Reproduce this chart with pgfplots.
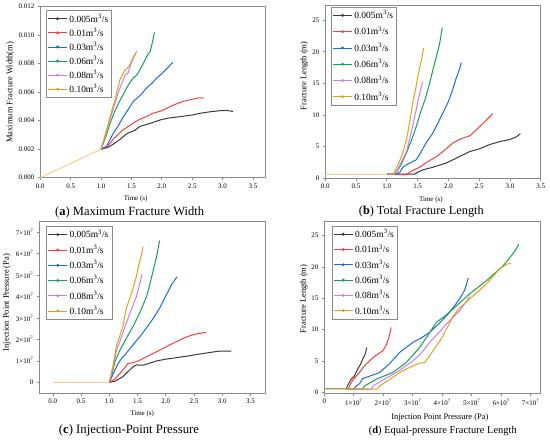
\documentclass[border=0pt]{standalone}
\usepackage{fontspec}
\setmainfont{Liberation Serif}
\usepackage{pgfplots}
\pgfplotsset{compat=1.18}
\definecolor{cblack}{HTML}{3A3A3A}
\definecolor{cred}{HTML}{FF3B3B}
\definecolor{cblue}{HTML}{1A68E8}
\definecolor{cgreen}{HTML}{15A050}
\definecolor{cpurple}{HTML}{C87DF0}
\definecolor{corange}{HTML}{E59E1A}
\definecolor{cpale}{HTML}{F6CF8F}
\definecolor{frame}{HTML}{8A8A8A}
\pgfplotsset{
  myax/.style={
    scale only axis,
    axis line style={frame, line width=0.9pt},
    tick pos=left, tick align=outside,
    major tick length=2.5bp,
    every tick/.style={frame, line width=0.7pt},
    tick label style={font=\fontsize{7}{8}\selectfont, text=black},
    /pgf/number format/assume math mode=true,
    legend cell align=left,
    legend image code/.code={\draw[##1, line width=0.7pt] (0bp,0bp) -- (19bp,0bp); \fill[##1] (9.5bp,0bp) circle (0.9bp);},
    legend style={draw=frame, line width=0.6pt, fill=white, anchor=north west,
      font=\fontsize{9.5}{10}\selectfont, inner sep=1.5bp},
    every axis plot/.append style={line width=1pt},
  },
}
\begin{document}
\begin{tikzpicture}
\useasboundingbox (0bp,0bp) rectangle (550bp,-441bp);
% ---------------- (a)
\begin{axis}[myax, at={(40.3bp,-177.7bp)}, anchor=south west,
  width=225.4bp, height=171bp,
  xmin=0, xmax=3.71, ymin=0, ymax=0.012,
  xtick={0,0.5,...,3.5}, ytick={0,0.002,...,0.012},
  xticklabel style={/pgf/number format/.cd, fixed, fixed zerofill, precision=1},
  yticklabel style={/pgf/number format/.cd, fixed, fixed zerofill, precision=3},
  scaled y ticks=false,
  xlabel={Time (s)}, ylabel={Maximum Fracture Width(m)},
  xlabel style={font=\fontsize{7}{8}\selectfont, at={(axis description cs:0.423,-0.125)}, anchor=center},
  ylabel style={font=\fontsize{8.5}{9}\selectfont, at={(axis description cs:-0.133,0.5)}, anchor=center},
  legend style={at={(0.025,0.98)}, row sep=0.4bp},
]
\addplot[cblack] coordinates {(1.0,0.00200)(1.1,0.00210)(1.2,0.00235)(1.3,0.00265)(1.4,0.00300)(1.45,0.00315)(1.55,0.00330)(1.64,0.00360)(1.8,0.00380)(1.97,0.00405)(2.1,0.00418)(2.3,0.00428)(2.5,0.00440)(2.63,0.00452)(2.8,0.00463)(2.95,0.00470)(3.07,0.00472)(3.17,0.00465)};
\addplot[cred] coordinates {(1.0,0.0020)(1.1,0.00215)(1.2,0.0027)(1.3,0.0031)(1.34,0.0033)(1.45,0.0036)(1.55,0.0039)(1.64,0.0041)(1.75,0.0043)(1.86,0.00453)(2.0,0.0047)(2.19,0.0051)(2.35,0.00535)(2.5,0.0055)(2.6,0.0056)(2.69,0.0056)};
\addplot[cblue] coordinates {(1.0,0.0020)(1.09,0.0022)(1.2,0.0031)(1.29,0.0037)(1.37,0.0043)(1.45,0.0048)(1.53,0.00535)(1.65,0.0058)(1.75,0.0063)(1.83,0.0066)(1.92,0.0070)(2.05,0.0075)(2.18,0.0081)};
\addplot[cgreen] coordinates {(1.0,0.0020)(1.07,0.00277)(1.15,0.00383)(1.22,0.0046)(1.29,0.00524)(1.36,0.0058)(1.42,0.0063)(1.48,0.0067)(1.53,0.0070)(1.59,0.0072)(1.64,0.00758)(1.70,0.00805)(1.75,0.0085)(1.81,0.00887)(1.85,0.0096)(1.88,0.0102)};
\addplot[cpurple] coordinates {(1.0,0.0020)(1.09,0.00336)(1.18,0.00453)(1.29,0.00606)(1.35,0.0067)(1.40,0.00723)(1.44,0.0073)(1.47,0.0077)(1.52,0.00833)(1.57,0.0087)};
\addplot[corange] coordinates {(1.0,0.0020)(1.07,0.00289)(1.15,0.0043)(1.23,0.00547)(1.31,0.00688)(1.36,0.0073)(1.40,0.00758)(1.46,0.0078)(1.51,0.00829)(1.55,0.0086)(1.59,0.00887)};
\addplot[cpale, forget plot] coordinates {(0,0)(1.0,0.002)};
\legend{0.005m\textsuperscript{3}/s,0.01m\textsuperscript{3}/s,0.03m\textsuperscript{3}/s,0.06m\textsuperscript{3}/s,0.08m\textsuperscript{3}/s,0.10m\textsuperscript{3}/s}
\end{axis}
% ---------------- (b)
\begin{axis}[myax, at={(325.3bp,-178bp)}, anchor=south west,
  width=215.4bp, height=173bp,
  xmin=0, xmax=3.5, ymin=0, ymax=27.4,
  xtick={0,0.5,...,3.5}, ytick={0,5,...,25},
  xticklabel style={/pgf/number format/.cd, fixed, fixed zerofill, precision=1},
  xlabel={Time (s)}, ylabel={Fracture Length (m)},
  xlabel style={font=\fontsize{7}{8}\selectfont, at={(axis description cs:0.49,-0.127)}, anchor=center},
  ylabel style={font=\fontsize{8.5}{9}\selectfont, at={(axis description cs:-0.097,0.59)}, anchor=center},
  legend style={at={(0.026,0.99)}, row sep=2.6bp},
]
\addplot[cblack] coordinates {(1.0,0.6)(1.45,0.6)(1.48,0.8)(1.59,1.3)(1.75,1.7)(1.97,2.4)(2.1,3.0)(2.2,3.5)(2.35,4.2)(2.5,4.6)(2.67,5.3)(2.85,5.8)(3.0,6.1)(3.1,6.5)(3.17,7.0)};
\addplot[cred] coordinates {(1.0,0.6)(1.3,0.5)(1.32,0.55)(1.4,1.1)(1.53,1.7)(1.65,2.5)(1.81,3.4)(1.95,4.5)(2.08,5.6)(2.2,6.2)(2.35,6.7)(2.45,7.6)(2.57,8.7)(2.65,9.5)(2.72,10.2)};
\addplot[cblue] coordinates {(1.0,0.6)(1.15,0.55)(1.21,0.9)(1.26,1.7)(1.32,2.1)(1.4,2.5)(1.48,2.9)(1.56,4.2)(1.64,5.6)(1.74,7.0)(1.83,8.7)(1.92,10.5)(2.0,12.1)(2.07,14.0)(2.13,15.9)(2.18,17.2)(2.21,18.3)};
\addplot[cgreen] coordinates {(1.0,0.6)(1.12,0.6)(1.16,0.9)(1.24,2.3)(1.32,4.0)(1.40,6.0)(1.48,8.2)(1.55,10.5)(1.62,12.4)(1.69,14.8)(1.75,17.2)(1.81,19.4)(1.86,21.4)(1.90,23.8)};
\addplot[cpurple] coordinates {(1.0,0.6)(1.12,0.6)(1.16,1.05)(1.24,2.6)(1.32,4.2)(1.38,6.5)(1.43,8.7)(1.47,10.5)(1.51,12.4)(1.55,14.0)(1.58,15.3)};
\addplot[corange] coordinates {(1.0,0.6)(1.1,0.6)(1.13,1.05)(1.2,2.5)(1.26,4.0)(1.32,6.2)(1.37,8.7)(1.40,10.5)(1.43,12.4)(1.47,14.2)(1.51,16.4)(1.56,18.6)(1.60,20.6)};
\addplot[cpale, forget plot] coordinates {(0,0.5)(1.0,0.5)};
\legend{0.005m\textsuperscript{3}/s,0.01m\textsuperscript{3}/s,0.03m\textsuperscript{3}/s,0.06m\textsuperscript{3}/s,0.08m\textsuperscript{3}/s,0.10m\textsuperscript{3}/s}
\end{axis}
% ---------------- (c)
\begin{axis}[myax, at={(39.3bp,-393bp)}, anchor=south west,
  width=226.4bp, height=171.3bp,
  xmin=-0.24, xmax=3.77, ymin=-0.5, ymax=7.5,
  xtick={0,0.5,...,3.5}, ytick={0,1,...,7},
  xticklabel style={/pgf/number format/.cd, fixed, fixed zerofill, precision=1},
  yticklabels={0,1×10\textsuperscript{7},2×10\textsuperscript{7},3×10\textsuperscript{7},4×10\textsuperscript{7},5×10\textsuperscript{7},6×10\textsuperscript{7},7×10\textsuperscript{7}},
  xlabel={Time (s)}, ylabel={Injection Point Pressure (Pa)},
  xlabel style={font=\fontsize{7}{8}\selectfont, at={(axis description cs:0.454,-0.124)}, anchor=center},
  ylabel style={font=\fontsize{8.5}{9}\selectfont, at={(axis description cs:-0.143,0.528)}, anchor=center},
  legend style={at={(0.03,0.975)}, row sep=1.6bp},
]
\addplot[cblack] coordinates {(1.0,0)(1.1,0.05)(1.24,0.26)(1.36,0.57)(1.42,0.72)(1.48,0.81)(1.60,0.80)(1.70,0.88)(1.84,1.0)(2.0,1.08)(2.19,1.15)(2.4,1.23)(2.6,1.32)(2.8,1.40)(2.96,1.46)(3.16,1.46)};
\addplot[cred] coordinates {(1.0,0)(1.1,0.15)(1.24,0.57)(1.33,0.87)(1.36,0.89)(1.48,0.96)(1.65,1.18)(1.84,1.43)(2.05,1.72)(2.25,1.98)(2.4,2.15)(2.54,2.26)(2.71,2.33)};
\addplot[cblue] coordinates {(1.0,0)(1.1,0.57)(1.16,0.9)(1.22,1.12)(1.30,1.36)(1.42,1.75)(1.54,2.13)(1.66,2.55)(1.78,2.99)(1.9,3.5)(2.01,4.08)(2.1,4.55)(2.2,4.93)};
\addplot[cgreen] coordinates {(1.0,0)(1.05,0.4)(1.1,0.96)(1.19,1.51)(1.3,2.05)(1.42,2.6)(1.54,3.25)(1.66,4.0)(1.72,4.6)(1.78,5.25)(1.84,5.9)(1.89,6.62)};
\addplot[cpurple] coordinates {(1.0,0)(1.06,0.6)(1.13,1.51)(1.22,2.15)(1.30,2.76)(1.39,3.4)(1.48,4.0)(1.53,4.5)(1.58,5.05)};
\addplot[corange] coordinates {(1.0,0)(1.06,0.7)(1.13,1.74)(1.19,2.2)(1.24,2.6)(1.30,3.46)(1.36,3.9)(1.42,4.39)(1.48,4.95)(1.53,5.56)(1.57,5.95)(1.60,6.34)};
\addplot[cpale, forget plot] coordinates {(0,0)(1.0,0)};
\legend{0.005m\textsuperscript{3}/s,0.01m\textsuperscript{3}/s,0.03m\textsuperscript{3}/s,0.06m\textsuperscript{3}/s,0.08m\textsuperscript{3}/s,0.10m\textsuperscript{3}/s}
\end{axis}
% ---------------- (d)
\begin{axis}[myax, at={(324.3bp,-393.3bp)}, anchor=south west,
  width=216.4bp, height=171.6bp,
  xmin=0, xmax=7.34, ymin=-0.15, ymax=27.2,
  xtick={0,1,...,7}, ytick={0,5,...,25},
  xticklabels={0,1×10\textsuperscript{7},2×10\textsuperscript{7},3×10\textsuperscript{7},4×10\textsuperscript{7},5×10\textsuperscript{7},6×10\textsuperscript{7},7×10\textsuperscript{7}},
  xlabel={Injection Point Pressure (Pa)}, ylabel={Fracture Length (m)},
  xlabel style={font=\fontsize{8.5}{9}\selectfont, at={(axis description cs:0.534,-0.142)}, anchor=center},
  ylabel style={font=\fontsize{8.5}{9}\selectfont, at={(axis description cs:-0.094,0.55)}, anchor=center},
  legend style={at={(0.034,0.977)}, row sep=1.6bp},
]
\addplot[cblack] coordinates {(0,0.5)(0.75,0.5)(0.78,1.0)(0.91,2.1)(1.02,2.6)(1.13,3.7)(1.22,4.4)(1.30,5.3)(1.38,6.0)(1.44,7.15)};
\addplot[cred] coordinates {(0,0.5)(0.82,0.5)(0.85,1.0)(0.95,1.8)(1.05,2.4)(1.19,3.15)(1.35,4.2)(1.53,5.0)(1.75,5.9)(1.98,6.6)(2.1,7.5)(2.15,8.2)(2.22,9.3)(2.27,10.35)};
\addplot[cblue] coordinates {(0,0.5)(1.0,0.5)(1.08,1.0)(1.2,1.4)(1.30,2.2)(1.55,2.6)(1.87,3.15)(2.2,4.5)(2.55,6.35)(3.0,7.95)(3.3,8.7)(3.57,9.55)(3.9,11.0)(4.25,12.75)(4.59,14.9)(4.75,16.2)(4.82,17.2)(4.88,18.2)};
\addplot[cgreen] coordinates {(0,0.5)(1.3,0.5)(1.36,1.0)(1.76,2.1)(2.32,3.15)(2.78,4.75)(3.23,7.15)(3.5,9.0)(3.80,11.15)(4.1,12.2)(4.37,13.3)(4.93,15.7)(5.5,17.8)(6.07,20.2)(6.35,21.8)(6.5,22.8)(6.6,23.6)};
\addplot[cpurple] coordinates {(0,0.5)(1.6,0.5)(1.64,1.0)(2.0,2.0)(2.44,3.15)(3.0,5.0)(3.3,6.3)(3.57,7.95)(3.9,9.6)(4.14,10.9)(4.59,13.0)(4.93,15.25)};
\addplot[corange] coordinates {(0,0.5)(1.8,0.5)(1.87,1.0)(2.2,2.0)(2.55,3.15)(2.9,4.0)(3.23,4.65)(3.40,4.75)(3.57,5.8)(3.8,7.4)(4.03,9.0)(4.2,10.6)(4.37,12.2)(4.6,13.5)(4.93,14.9)(5.2,16.0)(5.5,17.3)(5.95,19.7)(6.18,20.4)(6.32,20.6)};
\addplot[cpale, forget plot] coordinates {(0,0.5)(0.75,0.5)};
\legend{0.005m\textsuperscript{3}/s,0.01m\textsuperscript{3}/s,0.03m\textsuperscript{3}/s,0.06m\textsuperscript{3}/s,0.08m\textsuperscript{3}/s,0.10m\textsuperscript{3}/s}
\end{axis}
% ---------------- captions
\node[font=\fontsize{12.6}{13}\selectfont] at (129.7bp,-212bp) {(\textbf{a}) Maximum Fracture Width};
\node[font=\fontsize{12.3}{13}\selectfont] at (421.3bp,-212bp) {(\textbf{b}) Total Fracture Length};
\node[font=\fontsize{12.8}{13}\selectfont] at (129bp,-430.7bp) {(\textbf{c}) Injection-Point Pressure};
\node[font=\fontsize{10.5}{12}\selectfont] at (442.8bp,-430.7bp) {(\textbf{d}) Equal-pressure Fracture Length};
\end{tikzpicture}
\end{document}
